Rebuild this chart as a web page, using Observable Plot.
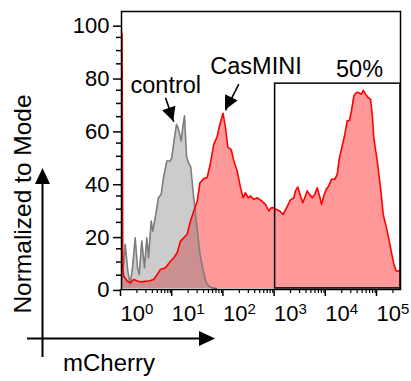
<!DOCTYPE html>
<html><head><meta charset="utf-8">
<script src="https://cdn.jsdelivr.net/npm/d3@7"></script>
<script src="https://cdn.jsdelivr.net/npm/@observablehq/plot@0.6"></script>
<style>html,body{margin:0;padding:0;background:#fff}svg{display:block}</style>
</head><body><div id="chart"></div>
<script>
// ---- data (mCherry intensity, % of mode) ----
const controlX = [1.0, 1.046, 1.181, 1.327, 1.479, 1.640, 1.852, 2.054, 2.217, 2.492, 2.813, 3.120, 3.368, 3.803, 4.087, 4.552, 5.281, 5.963, 6.612, 7.670, 8.937, 9.603, 10.37, 11.87, 13.0, 14.7, 15.7, 17.0, 18.6, 20.4, 22.5, 25.5, 29.8, 34.1, 39.1, 44.7, 51.2, 59.9, 71.7];
const controlY = [3, 4.0, 16.7, 6.5, 1.5, 7.8, 19.2, 7.8, 5.3, 17.9, 7.8, 19.2, 11.6, 25.5, 21.7, 26.7, 34.3, 35.6, 41.9, 48.2, 48.2, 49.5, 54.5, 62.1, 60.2, 55.8, 60.8, 65.3, 50, 47.5, 46, 35, 23, 13, 7, 2.5, 0.8, 0.2, 0];

const casminiX = [1.0, 1.025, 1.06, 1.109, 1.292, 1.499, 1.739, 2.026, 2.350, 3.414, 4.274, 4.983, 5.777, 7.234, 9.06, 10.51, 12.24, 14.21, 16.48, 19.20, 22.27, 25.84, 30.10, 34.14, 39.96, 47.18, 54.74, 63.50, 73.97, 83.18, 96.0, 107.5, 119.2, 138.9, 156.1, 181.9, 211.0, 238.2, 264.2, 298.4, 330.8, 383.7, 447.1, 559.8, 649.4, 753.4, 839.1, 943.2, 1065, 1235, 1439, 1670, 2000, 2319, 2502, 2776, 3134, 3475, 3803, 4236, 4697, 5305, 5962, 6643, 7367, 8060, 8939, 9955, 11190, 12640, 14660, 16330, 18100, 20440, 22980, 25600, 28390, 31060, 34450, 38370, 43130, 48700, 52570, 58300, 65820, 73000, 78790, 84680, 98650, 114500, 129200, 154700, 179500, 208200, 231900, 260600, 281000];
const casminiY = [97, 96, 8, 4.7, 2.8, 2.1, 3.4, 2.8, 2.5, 2.8, 3.4, 5.3, 7.2, 7.8, 10.3, 11.6, 13.5, 17.9, 19.2, 20.5, 25.5, 29.3, 33, 40, 41.5, 42, 47.5, 54.5, 57.5, 62, 66.3, 60.8, 53.5, 52.5, 48.2, 44.4, 38.1, 34.3, 36.2, 34.3, 35, 33.7, 34.3, 33, 31.8, 29.3, 30.5, 30.5, 29.9, 29.3, 28, 30.5, 33.5, 34.3, 36.9, 38.4, 35, 32.4, 34.3, 36.9, 35.6, 34.3, 35.6, 38.1, 35, 31.8, 35, 37.5, 38.8, 41.3, 41.3, 43.2, 49.5, 53.9, 58.3, 63.4, 63.6, 67.2, 72.8, 74.1, 74.1, 73.5, 75, 73.5, 72.2, 71.6, 65.9, 57, 48.2, 38.1, 28, 21.7, 15.4, 9.1, 6.6, 6.6, 7.2];

// gate (x from 10^3 to axis max, up to 77.5 %)
const gateX = [1000, 281000];
const gateY = [0, 77.5];

// annotations
const labelText = ["control", "CasMINI", "50%"];
const labelX = [7.33, 423.7, 44500];
const labelY = [73.8, 81.1, 80.0];
const arrowX1 = [7.23, 195.4], arrowY1 = [72.2, 77.3];
const arrowX2 = [10.5, 107.5], arrowY2 = [63.1, 67.4];

// axes
const xDomain = [1, 281000];
const yDomain = [-0.4, 104.8];
const majorX = [1, 10, 100, 1000, 10000, 100000];
const minorX = [];
for (const d of majorX) for (let m = 2; m <= 9; m++) if (m * d <= xDomain[1]) minorX.push(m * d);
const majorY = [0, 20, 40, 60, 80, 100];
const minorY = d3.range(5, 100, 5).filter(v => v % 20 !== 0);

const control = controlX.map((x, i) => ({x, y: controlY[i]}));
const casmini = casminiX.map((x, i) => ({x, y: casminiY[i]}));
const gate = [{x1: gateX[0], x2: gateX[1], y1: gateY[0], y2: gateY[1]}];
const labels = labelText.map((t, i) => ({t, x: labelX[i], y: labelY[i]}));
const arrows = arrowX1.map((x1, i) => ({x1, y1: arrowY1[i], x2: arrowX2[i], y2: arrowY2[i]}));

const FONT = '"Liberation Sans", Arial, Helvetica, sans-serif';

const plot = Plot.plot({
  width: 411, height: 381,
  marginLeft: 121, marginRight: 11, marginTop: 11, marginBottom: 92,
  x: {type: "log", domain: xDomain, label: null},
  y: {domain: yDomain, label: null},
  style: {fontFamily: FONT, fontSize: "22px", color: "black", background: "white", overflow: "visible"},
  marks: [
    Plot.areaY(casmini, {x: "x", y: "y", fill: "#ff0000", fillOpacity: 0.4, clip: true}),
    Plot.areaY(control, {x: "x", y: "y", fill: "#808080", fillOpacity: 0.4, clip: true}),
    Plot.lineY(control, {x: "x", y: "y", stroke: "#7d7d7d", strokeWidth: 1.6, clip: true}),
    Plot.lineY(casmini, {x: "x", y: "y", stroke: "#ff0000", strokeWidth: 1.6, clip: true}),
    Plot.rect(gate, {x1: "x1", x2: "x2", y1: "y1", y2: "y2", fill: "none", stroke: "black", strokeWidth: 1.5}),
    Plot.frame({stroke: "black", strokeWidth: 1.5}),
    Plot.axisY({ticks: majorY, tickSize: 8, tickPadding: 4, fontSize: 22, dy: 2, strokeWidth: 1.5, label: null}),
    Plot.axisY({ticks: minorY, tickSize: 5, tickFormat: () => "", strokeWidth: 1.5, label: null}),
    Plot.axisX({ticks: majorX, tickSize: 7, tickPadding: 9, fontSize: 22, textAnchor: "start", dx: -1,
      tickFormat: d => "10^" + Math.round(Math.log10(d)), strokeWidth: 1.5, label: null}),
    Plot.axisX({ticks: minorX, tickSize: 4, tickFormat: () => "", strokeWidth: 1.2, label: null}),
    Plot.link(arrows, {x1: "x1", y1: "y1", x2: "x2", y2: "y2", stroke: "black", strokeWidth: 1.6}),
    Plot.text(labels, {x: "x", y: "y", text: "t", fontSize: 23.5, textAnchor: "middle", lineAnchor: "bottom", fill: "black"})
  ]
});

// superscript exponents on x tick labels
const NS = "http://www.w3.org/2000/svg";
plot.querySelectorAll('g[aria-label="x-axis tick label"] text').forEach(t => {
  const s = t.textContent;
  if (!s.includes("^")) return;
  const k = s.split("^")[1];
  t.textContent = "10";
  const ts = document.createElementNS(NS, "tspan");
  ts.setAttribute("dy", "-7");
  ts.setAttribute("font-size", "15");
  ts.textContent = k;
  t.appendChild(ts);
});

const svg = d3.select(plot);
const sx = plot.scale("x"), sy = plot.scale("y");

// filled arrowheads for annotations, positioned through the plot's scales
arrows.forEach(a => {
  const x0 = sx.apply(a.x1), y0 = sy.apply(a.y1);
  const x1 = sx.apply(a.x2), y1 = sy.apply(a.y2);
  const dx = x1 - x0, dy = y1 - y0, L = Math.hypot(dx, dy);
  const ux = dx / L, uy = dy / L, len = 14, hw = 7;
  const bx = x1 - ux * len, by = y1 - uy * len;
  svg.append("polygon")
    .attr("points", [[x1, y1], [bx - uy * hw, by + ux * hw], [bx + uy * hw, by - ux * hw]].map(p => p.join(",")).join(" "))
    .attr("fill", "black");
});

// decorative axis arrows and titles
const deco = svg.append("g");
deco.append("line").attr("x1", 42.5).attr("y1", 357).attr("x2", 42.5).attr("y2", 182).attr("stroke", "black").attr("stroke-width", 2);
deco.append("polygon").attr("points", "42.5,168 35,184 50,184").attr("fill", "black");
deco.append("line").attr("x1", 27).attr("y1", 338.5).attr("x2", 201).attr("y2", 338.5).attr("stroke", "black").attr("stroke-width", 2);
deco.append("polygon").attr("points", "215,338.5 199,331 199,346").attr("fill", "black");
deco.append("text").attr("transform", "translate(31,204) rotate(-90)").attr("text-anchor", "middle")
  .attr("font-size", 24.5).attr("font-family", FONT).attr("fill", "black").text("Normalized to Mode");
deco.append("text").attr("x", 63).attr("y", 371).attr("text-anchor", "start").attr("font-size", 24).attr("font-family", FONT).attr("fill", "black").text("mCherry");

document.getElementById("chart").appendChild(plot);
</script>
</body></html>
